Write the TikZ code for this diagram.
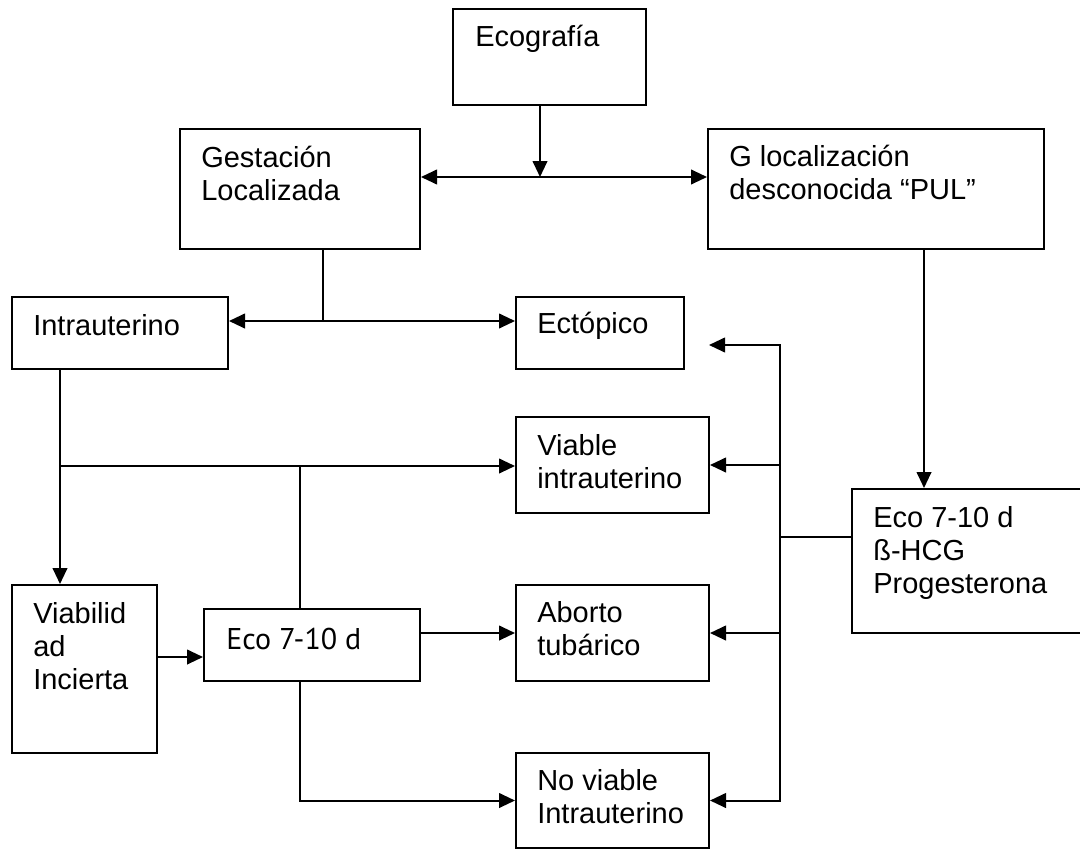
\documentclass[tikz,border=0pt]{standalone}
\usepackage{fontspec}
\setmainfont{Liberation Sans}
\newfontfamily\ecofont{PT Sans}
\usetikzlibrary{arrows.meta}
\begin{document}
\begin{tikzpicture}[x=0.75pt,y=-0.75pt,
  box/.style={draw,line width=1.5pt,rectangle,inner sep=0pt},
  lbl/.style={anchor=base west,inner sep=0pt,font=\fontsize{21.75pt}{25.1pt}\selectfont},
  conn/.style={line width=1.5pt},
  arr/.style={line width=1.5pt,-{Triangle[length=12pt,width=11pt]}},
  arrboth/.style={line width=1.5pt,{Triangle[length=12pt,width=11pt]}-{Triangle[length=12pt,width=11pt]}}]
\useasboundingbox (0,0) rectangle (1080,849);
\fill[white] (0,0) rectangle (1080,849);
% boxes
\node[box,minimum width=144.75pt,minimum height=72pt] (eco) at (549.5,57) {};
\node[box,minimum width=180pt,minimum height=90pt] (gest) at (300,189) {};
\node[box,minimum width=252pt,minimum height=90pt] (gloc) at (876,189) {};
\node[box,minimum width=162pt,minimum height=54pt] (intra) at (120,333) {};
\node[box,minimum width=126pt,minimum height=54pt] (ecto) at (600,333) {};
\node[box,minimum width=144.75pt,minimum height=72pt] (viable) at (612.5,465) {};
\node[box,minimum width=177.75pt,minimum height=108pt] (pul) at (970.5,561) {};
\node[box,minimum width=108.75pt,minimum height=126pt] (viab) at (84.5,669) {};
\node[box,minimum width=162pt,minimum height=54pt] (eco2) at (312,645) {};
\node[box,minimum width=144.75pt,minimum height=72pt] (aborto) at (612.5,633) {};
\node[box,minimum width=144.75pt,minimum height=71.25pt] (noviable) at (612.5,800.5) {};
% texts
\node[lbl] (teco) at (475,47) {Ecografía};
\node[lbl] (tgest) at (201,167) {\begin{tabular}[t]{@{}l@{}}Gestación\\Localizada\end{tabular}};
\node[lbl] (tgloc) at (729,166) {\begin{tabular}[t]{@{}l@{}}G localización\\desconocida “PUL”\end{tabular}};
\node[lbl] (tintra) at (33,335) {Intrauterino};
\node[lbl] (tecto) at (537,333) {Ectópico};
\node[lbl] (tviable) at (537,455) {\begin{tabular}[t]{@{}l@{}}Viable\\intrauterino\end{tabular}};
\node[lbl] (taborto) at (537,622) {\begin{tabular}[t]{@{}l@{}}Aborto\\tubárico\end{tabular}};
\node[lbl] (tnoviable) at (537,790) {\begin{tabular}[t]{@{}l@{}}No viable\\Intrauterino\end{tabular}};
\node[lbl] (tpul) at (873,527) {\begin{tabular}[t]{@{}l@{}}Eco 7-10 d\\ß-HCG\\Progesterona\end{tabular}};
\node[lbl] (tviab) at (33,623) {\begin{tabular}[t]{@{}l@{}}Viabilid\\ad\\Incierta\end{tabular}};
\node[lbl,font=\ecofont\fontsize{22.5pt}{25.1pt}\selectfont] (teco2) at (226,649) {Eco 7-10 d};
% junctions
\coordinate (j1) at (540,177);
\coordinate (j2) at (323,321);
\coordinate (j3) at (60,466);
\coordinate (j4) at (300,466);
\coordinate (j5) at (180,657);
\coordinate (j6) at (924,400);
\coordinate (j7) at (780,537);
\coordinate (ectotip) at (709,345);
% connectors
\draw[arr] (eco.south -| j1) -- (j1);
\draw[arrboth] (gest.east |- j1) -- (gloc.west |- j1);
\draw[conn] (gest.south -| j2) -- (j2);
\draw[arrboth] (intra.east |- j2) -- (ecto.west |- j2);
\draw[arr] (intra.south -| j3) -- (viab.north -| j3);
\draw[arr] (j3) -- (viable.west |- j3);
\draw[conn] (eco2.north -| j4) -- (j4);
\draw[arr] (viab.east |- j5) -- (eco2.west |- j5);
\draw[arr] (eco2.east |- aborto) -- (aborto.west);
\draw[arr] (eco2.south -| j4) |- (noviable.west);
\draw[arr] (gloc.south -| j6) -- (pul.north -| j6);
\draw[conn] (pul.west |- j7) -- (j7);
\draw[arr] (j7) |- (ectotip);
\draw[arr] (j7) |- (viable.east);
\draw[arr] (j7) |- (aborto.east);
\draw[arr] (j7) |- (noviable.east);
\end{tikzpicture}
\end{document}
